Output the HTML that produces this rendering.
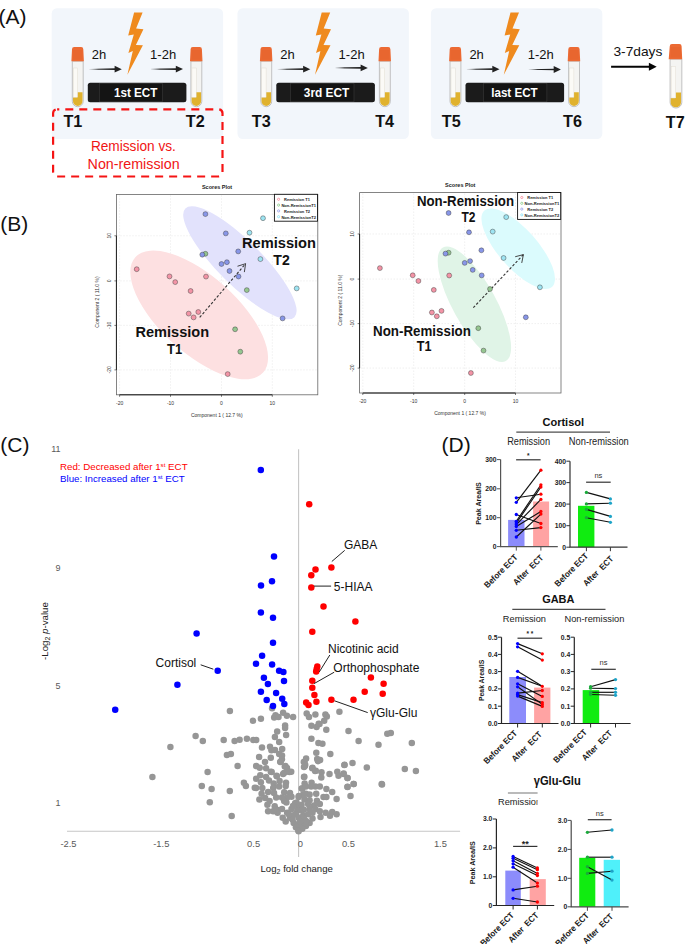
<!DOCTYPE html><html><head><meta charset="utf-8"><style>html,body{margin:0;padding:0;background:#fff;width:685px;height:944px;overflow:hidden}svg{display:block;font-family:"Liberation Sans", sans-serif}</style></head><body><svg width="685" height="944" viewBox="0 0 685 944"><defs><linearGradient id="afade" x1="0" y1="0" x2="1" y2="0"><stop offset="0" stop-color="#222" stop-opacity="0.15"/><stop offset="0.35" stop-color="#222" stop-opacity="1"/><stop offset="1" stop-color="#222" stop-opacity="1"/></linearGradient></defs>
<rect x="0" y="0" width="685" height="944" fill="#fff"/>
<rect x="51.7" y="8.2" width="171.4" height="130.8" rx="5.2" fill="#f2f6fb"/>
<rect x="237.5" y="8.2" width="171.4" height="130.8" rx="5.2" fill="#f2f6fb"/>
<rect x="430.9" y="8.2" width="171.4" height="130.8" rx="5.2" fill="#f2f6fb"/>
<path d="M72.30,61.20 h10.90 v40.05 a5.45,5.45 0 0 1 -10.90,0 z" fill="#f4f4f2" stroke="#b4b4b4" stroke-width="0.8"/><path d="M73.00,97.20 h4.30 v-5.00 h5.20 v9.05 a4.75,4.75 0 0 1 -9.50,0 z" fill="#e0b22e"/><rect x="73.30" y="68.00" width="4.30" height="29.20" fill="#fbfaf6" stroke="#dcd8cc" stroke-width="0.4"/><path d="M72.00,49.20 q0,-2.2 2.2,-2.2 h6.90 q2.2,0 2.2,2.2 l0.6,12.00 h-12.50 z" fill="#ec6a33"/><rect x="72.90" y="50.00" width="9.50" height="9.70" fill="#d95a25" opacity="0.22"/>
<path d="M190.90,61.20 h10.90 v40.05 a5.45,5.45 0 0 1 -10.90,0 z" fill="#f4f4f2" stroke="#b4b4b4" stroke-width="0.8"/><path d="M191.60,97.20 h4.30 v-5.00 h5.20 v9.05 a4.75,4.75 0 0 1 -9.50,0 z" fill="#e0b22e"/><rect x="191.90" y="68.00" width="4.30" height="29.20" fill="#fbfaf6" stroke="#dcd8cc" stroke-width="0.4"/><path d="M190.60,49.20 q0,-2.2 2.2,-2.2 h6.90 q2.2,0 2.2,2.2 l0.6,12.00 h-12.50 z" fill="#ec6a33"/><rect x="191.50" y="50.00" width="9.50" height="9.70" fill="#d95a25" opacity="0.22"/>
<polygon points="134.1,12.4 142.6,12.4 136.1,28.6 143.4,29.3 135.9,45.0 142.9,45.2 127.4,74.7 132.8,51.0 128.4,53.1 133.8,34.5 128.2,35.6" fill="#ef8a1e"/>
<polygon points="89.2,68.9 115.10000000000001,68.35000000000001 115.10000000000001,70.05 89.2,69.5" fill="url(#afade)"/><path d="M114.60000000000001,65.8 L121.80000000000001,69.2 L114.60000000000001,72.60000000000001 z" fill="#222"/>
<polygon points="151.0,68.8 176.3,68.25 176.3,69.94999999999999 151.0,69.39999999999999" fill="url(#afade)"/><path d="M175.8,65.69999999999999 L183.0,69.1 L175.8,72.5 z" fill="#222"/>
<text x="91.7" y="59.0" font-size="13" fill="#111">2h</text>
<text x="150.10000000000002" y="59.0" font-size="13" fill="#111">1-2h</text>
<rect x="87.80000000000001" y="82.8" width="98.6" height="19.4" rx="2.5" fill="#1b1b1b"/>
<rect x="99.3" y="83.3" width="63.0" height="18.4" fill="#141414" stroke="#3a3a3a" stroke-width="0.6"/>
<text x="135.65" y="97.2" font-size="13" font-weight="bold" fill="#fff" text-anchor="middle" textLength="43.5" lengthAdjust="spacingAndGlyphs">1st ECT</text>
<path d="M260.80,61.20 h10.90 v40.05 a5.45,5.45 0 0 1 -10.90,0 z" fill="#f4f4f2" stroke="#b4b4b4" stroke-width="0.8"/><path d="M261.50,97.20 h4.30 v-5.00 h5.20 v9.05 a4.75,4.75 0 0 1 -9.50,0 z" fill="#e0b22e"/><rect x="261.80" y="68.00" width="4.30" height="29.20" fill="#fbfaf6" stroke="#dcd8cc" stroke-width="0.4"/><path d="M260.50,49.20 q0,-2.2 2.2,-2.2 h6.90 q2.2,0 2.2,2.2 l0.6,12.00 h-12.50 z" fill="#ec6a33"/><rect x="261.40" y="50.00" width="9.50" height="9.70" fill="#d95a25" opacity="0.22"/>
<path d="M379.40,61.20 h10.90 v40.05 a5.45,5.45 0 0 1 -10.90,0 z" fill="#f4f4f2" stroke="#b4b4b4" stroke-width="0.8"/><path d="M380.10,97.20 h4.30 v-5.00 h5.20 v9.05 a4.75,4.75 0 0 1 -9.50,0 z" fill="#e0b22e"/><rect x="380.40" y="68.00" width="4.30" height="29.20" fill="#fbfaf6" stroke="#dcd8cc" stroke-width="0.4"/><path d="M379.10,49.20 q0,-2.2 2.2,-2.2 h6.90 q2.2,0 2.2,2.2 l0.6,12.00 h-12.50 z" fill="#ec6a33"/><rect x="380.00" y="50.00" width="9.50" height="9.70" fill="#d95a25" opacity="0.22"/>
<polygon points="321.7,12.4 330.2,12.4 323.7,28.6 331.0,29.3 323.5,45.0 330.5,45.2 315.0,74.7 320.4,51.0 316.0,53.1 321.4,34.5 315.8,35.6" fill="#ef8a1e"/>
<polygon points="277.7,68.9 303.59999999999997,68.35000000000001 303.59999999999997,70.05 277.7,69.5" fill="url(#afade)"/><path d="M303.09999999999997,65.8 L310.29999999999995,69.2 L303.09999999999997,72.60000000000001 z" fill="#222"/>
<polygon points="335.4,67.60000000000001 361.1,67.05000000000001 361.1,68.75 335.4,68.2" fill="url(#afade)"/><path d="M360.6,64.5 L367.8,67.9 L360.6,71.30000000000001 z" fill="#222"/>
<text x="280.2" y="59.0" font-size="13" fill="#111">2h</text>
<text x="338.59999999999997" y="59.0" font-size="13" fill="#111">1-2h</text>
<rect x="276.29999999999995" y="82.8" width="98.6" height="19.4" rx="2.5" fill="#1b1b1b"/>
<rect x="290.5" y="83.3" width="63.5" height="18.4" fill="#141414" stroke="#3a3a3a" stroke-width="0.6"/>
<text x="326.55" y="97.2" font-size="13" font-weight="bold" fill="#fff" text-anchor="middle" textLength="45.5" lengthAdjust="spacingAndGlyphs">3rd ECT</text>
<path d="M450.00,61.20 h10.90 v40.05 a5.45,5.45 0 0 1 -10.90,0 z" fill="#f4f4f2" stroke="#b4b4b4" stroke-width="0.8"/><path d="M450.70,97.20 h4.30 v-5.00 h5.20 v9.05 a4.75,4.75 0 0 1 -9.50,0 z" fill="#e0b22e"/><rect x="451.00" y="68.00" width="4.30" height="29.20" fill="#fbfaf6" stroke="#dcd8cc" stroke-width="0.4"/><path d="M449.70,49.20 q0,-2.2 2.2,-2.2 h6.90 q2.2,0 2.2,2.2 l0.6,12.00 h-12.50 z" fill="#ec6a33"/><rect x="450.60" y="50.00" width="9.50" height="9.70" fill="#d95a25" opacity="0.22"/>
<path d="M568.60,61.20 h10.90 v40.05 a5.45,5.45 0 0 1 -10.90,0 z" fill="#f4f4f2" stroke="#b4b4b4" stroke-width="0.8"/><path d="M569.30,97.20 h4.30 v-5.00 h5.20 v9.05 a4.75,4.75 0 0 1 -9.50,0 z" fill="#e0b22e"/><rect x="569.60" y="68.00" width="4.30" height="29.20" fill="#fbfaf6" stroke="#dcd8cc" stroke-width="0.4"/><path d="M568.30,49.20 q0,-2.2 2.2,-2.2 h6.90 q2.2,0 2.2,2.2 l0.6,12.00 h-12.50 z" fill="#ec6a33"/><rect x="569.20" y="50.00" width="9.50" height="9.70" fill="#d95a25" opacity="0.22"/>
<polygon points="510.5,12.4 519.0,12.4 512.5,28.6 519.8,29.3 512.3,45.0 519.3,45.2 503.8,74.7 509.2,51.0 504.8,53.1 510.2,34.5 504.6,35.6" fill="#ef8a1e"/>
<polygon points="466.90000000000003,68.9 492.8,68.35000000000001 492.8,70.05 466.90000000000003,69.5" fill="url(#afade)"/><path d="M492.3,65.8 L499.5,69.2 L492.3,72.60000000000001 z" fill="#222"/>
<polygon points="528.7,69.2 554.1999999999999,68.65 554.1999999999999,70.35 528.7,69.8" fill="url(#afade)"/><path d="M553.6999999999999,66.1 L560.9,69.5 L553.6999999999999,72.9 z" fill="#222"/>
<text x="469.40000000000003" y="59.0" font-size="13" fill="#111">2h</text>
<text x="527.8000000000001" y="59.0" font-size="13" fill="#111">1-2h</text>
<rect x="465.5" y="82.8" width="98.6" height="19.4" rx="2.5" fill="#1b1b1b"/>
<rect x="483.4" y="83.3" width="63.5" height="18.4" fill="#141414" stroke="#3a3a3a" stroke-width="0.6"/>
<text x="514.45" y="97.2" font-size="13" font-weight="bold" fill="#fff" text-anchor="middle" textLength="46.5" lengthAdjust="spacingAndGlyphs">last ECT</text>
<text x="63.4" y="126.5" font-size="16.2" font-weight="bold" fill="#111">T1</text>
<text x="185.8" y="126.5" font-size="16.2" font-weight="bold" fill="#111">T2</text>
<text x="251.8" y="126.5" font-size="16.2" font-weight="bold" fill="#111">T3</text>
<text x="375.2" y="126.5" font-size="16.2" font-weight="bold" fill="#111">T4</text>
<text x="441.8" y="126.5" font-size="16.2" font-weight="bold" fill="#111">T5</text>
<text x="563.0" y="126.5" font-size="16.2" font-weight="bold" fill="#111">T6</text>
<text x="665.8" y="127.5" font-size="16.2" font-weight="bold" fill="#111">T7</text>
<path d="M670.07,59.14 h11.77 v43.25 a5.89,5.89 0 0 1 -11.77,0 z" fill="#f4f4f2" stroke="#b4b4b4" stroke-width="0.8"/><path d="M670.77,98.02 h4.64 v-5.40 h5.62 v9.77 a5.19,5.19 0 0 1 -10.37,0 z" fill="#e0b22e"/><rect x="671.15" y="66.48" width="4.64" height="31.54" fill="#fbfaf6" stroke="#dcd8cc" stroke-width="0.4"/><path d="M669.75,46.18 q0,-2.2 2.2,-2.2 h7.45 q2.2,0 2.2,2.2 l0.6,12.96 h-13.50 z" fill="#ec6a33"/><rect x="670.72" y="47.04" width="10.26" height="10.48" fill="#d95a25" opacity="0.22"/>
<path d="M611.1,66.7 L649.4000000000001,66.7" stroke="#050505" stroke-width="2.0"/><path d="M648.9000000000001,62.7 L656.7,66.7 L648.9000000000001,70.7 z" fill="#050505"/>
<text x="613.4" y="56.0" font-size="12.8" fill="#111" textLength="49" lengthAdjust="spacingAndGlyphs">3-7days</text>
<rect x="53.1" y="109.3" width="169.4" height="67.2" rx="4" fill="none" stroke="#f51414" stroke-width="2.2" stroke-dasharray="8,6" stroke-dashoffset="5.8"/>
<text x="133.4" y="151.1" font-size="14" fill="#f01414" text-anchor="middle" textLength="85" lengthAdjust="spacingAndGlyphs">Remission vs.</text>
<text x="133.6" y="169.2" font-size="14" fill="#f01414" text-anchor="middle" textLength="92" lengthAdjust="spacingAndGlyphs">Non-remission</text>
<text x="-1.5" y="24.2" font-size="21" fill="#111">(A)</text>
<text x="0.2" y="231.0" font-size="21" fill="#111">(B)</text>
<text x="0.3" y="451.7" font-size="21" fill="#111">(C)</text>
<text x="441.6" y="451.7" font-size="21" fill="#111">(D)</text>
<text x="217.05" y="188.6" font-size="6" font-weight="bold" fill="#222" text-anchor="middle" textLength="30.3" lengthAdjust="spacingAndGlyphs">Scores Plot</text><line x1="119.6" y1="195.4" x2="119.6" y2="393.8" stroke="#dcdcdc" stroke-width="0.55" stroke-dasharray="1.2,1.8"/><line x1="170.5" y1="195.4" x2="170.5" y2="393.8" stroke="#dcdcdc" stroke-width="0.55" stroke-dasharray="1.2,1.8"/><line x1="221.5" y1="195.4" x2="221.5" y2="393.8" stroke="#dcdcdc" stroke-width="0.55" stroke-dasharray="1.2,1.8"/><line x1="272.3" y1="195.4" x2="272.3" y2="393.8" stroke="#dcdcdc" stroke-width="0.55" stroke-dasharray="1.2,1.8"/><line x1="117.4" y1="235.8" x2="316.8" y2="235.8" stroke="#dcdcdc" stroke-width="0.55" stroke-dasharray="1.2,1.8"/><line x1="117.4" y1="280.9" x2="316.8" y2="280.9" stroke="#dcdcdc" stroke-width="0.55" stroke-dasharray="1.2,1.8"/><line x1="117.4" y1="325.4" x2="316.8" y2="325.4" stroke="#dcdcdc" stroke-width="0.55" stroke-dasharray="1.2,1.8"/><line x1="117.4" y1="369.9" x2="316.8" y2="369.9" stroke="#dcdcdc" stroke-width="0.55" stroke-dasharray="1.2,1.8"/><ellipse cx="199.2" cy="314.9" rx="86.1" ry="38.4" transform="rotate(42.1 199.2 314.9)" fill="#fde0e1"/><ellipse cx="239.9" cy="262.8" rx="77.0" ry="22.0" transform="rotate(44.9 239.9 262.8)" fill="#e2e2fc"/><rect x="116.4" y="194.4" width="201.4" height="200.4" fill="none" stroke="#666" stroke-width="0.8"/><line x1="116.4" y1="235.8" x2="116.4" y2="369.9" stroke="#222" stroke-width="1"/><line x1="119.6" y1="394.8" x2="272.3" y2="394.8" stroke="#222" stroke-width="1"/><line x1="119.6" y1="394.8" x2="119.6" y2="396.8" stroke="#222" stroke-width="0.6"/><line x1="170.5" y1="394.8" x2="170.5" y2="396.8" stroke="#222" stroke-width="0.6"/><line x1="221.5" y1="394.8" x2="221.5" y2="396.8" stroke="#222" stroke-width="0.6"/><line x1="272.3" y1="394.8" x2="272.3" y2="396.8" stroke="#222" stroke-width="0.6"/><line x1="114.4" y1="235.8" x2="116.4" y2="235.8" stroke="#222" stroke-width="0.6"/><line x1="114.4" y1="280.9" x2="116.4" y2="280.9" stroke="#222" stroke-width="0.6"/><line x1="114.4" y1="325.4" x2="116.4" y2="325.4" stroke="#222" stroke-width="0.6"/><line x1="114.4" y1="369.9" x2="116.4" y2="369.9" stroke="#222" stroke-width="0.6"/><text x="119.6" y="405.2" font-size="5" fill="#333" text-anchor="middle">-20</text><text x="170.5" y="405.2" font-size="5" fill="#333" text-anchor="middle">-10</text><text x="221.5" y="405.2" font-size="5" fill="#333" text-anchor="middle">0</text><text x="272.3" y="405.2" font-size="5" fill="#333" text-anchor="middle">10</text><text x="110.8" y="235.8" font-size="5" fill="#333" text-anchor="middle" transform="rotate(-90 110.8 235.8)">10</text><text x="110.8" y="280.9" font-size="5" fill="#333" text-anchor="middle" transform="rotate(-90 110.8 280.9)">0</text><text x="110.8" y="325.4" font-size="5" fill="#333" text-anchor="middle" transform="rotate(-90 110.8 325.4)">-10</text><text x="110.8" y="369.9" font-size="5" fill="#333" text-anchor="middle" transform="rotate(-90 110.8 369.9)">-20</text><text x="216.8" y="416.6" font-size="5" fill="#333" text-anchor="middle">Component 1 ( 12.7 %)</text><text x="99.2" y="302" font-size="5" fill="#333" text-anchor="middle" transform="rotate(-90 99.2 302)">Component 2 ( 11.0 %)</text><line x1="199.7" y1="317.4" x2="245.6" y2="263.7" stroke="#333" stroke-width="1.1" stroke-dasharray="2.6,1.8"/><line x1="245.6" y1="263.7" x2="237.49" y2="266.24" stroke="#333" stroke-width="0.9"/><line x1="245.6" y1="263.7" x2="244.35" y2="272.11" stroke="#333" stroke-width="0.9"/><circle cx="136.7" cy="269.2" r="2.45" fill="#f394a6" stroke="#3a3a3a" stroke-width="0.45"/><circle cx="169.5" cy="276.4" r="2.45" fill="#f394a6" stroke="#3a3a3a" stroke-width="0.45"/><circle cx="175.2" cy="282.1" r="2.45" fill="#f394a6" stroke="#3a3a3a" stroke-width="0.45"/><circle cx="206.0" cy="276.6" r="2.45" fill="#f394a6" stroke="#3a3a3a" stroke-width="0.45"/><circle cx="190.6" cy="291.0" r="2.45" fill="#f394a6" stroke="#3a3a3a" stroke-width="0.45"/><circle cx="188.7" cy="313.6" r="2.45" fill="#f394a6" stroke="#3a3a3a" stroke-width="0.45"/><circle cx="193.6" cy="317.4" r="2.45" fill="#f394a6" stroke="#3a3a3a" stroke-width="0.45"/><circle cx="198.3" cy="312.0" r="2.45" fill="#f394a6" stroke="#3a3a3a" stroke-width="0.45"/><circle cx="227.7" cy="374.1" r="2.45" fill="#f394a6" stroke="#3a3a3a" stroke-width="0.45"/><circle cx="205.4" cy="253.8" r="2.45" fill="#95c690" stroke="#3a3a3a" stroke-width="0.45"/><circle cx="246.8" cy="290.1" r="2.45" fill="#95c690" stroke="#3a3a3a" stroke-width="0.45"/><circle cx="235.1" cy="329.3" r="2.45" fill="#95c690" stroke="#3a3a3a" stroke-width="0.45"/><circle cx="240.3" cy="351.7" r="2.45" fill="#95c690" stroke="#3a3a3a" stroke-width="0.45"/><circle cx="205.4" cy="214.1" r="2.45" fill="#8896e8" stroke="#3a3a3a" stroke-width="0.45"/><circle cx="225.8" cy="233.4" r="2.45" fill="#8896e8" stroke="#3a3a3a" stroke-width="0.45"/><circle cx="202.3" cy="254.7" r="2.45" fill="#8896e8" stroke="#3a3a3a" stroke-width="0.45"/><circle cx="238.2" cy="251.4" r="2.45" fill="#8896e8" stroke="#3a3a3a" stroke-width="0.45"/><circle cx="221.5" cy="264.0" r="2.45" fill="#8896e8" stroke="#3a3a3a" stroke-width="0.45"/><circle cx="226.9" cy="262.2" r="2.45" fill="#8896e8" stroke="#3a3a3a" stroke-width="0.45"/><circle cx="229.5" cy="271.0" r="2.45" fill="#8896e8" stroke="#3a3a3a" stroke-width="0.45"/><circle cx="238.5" cy="276.5" r="2.45" fill="#8896e8" stroke="#3a3a3a" stroke-width="0.45"/><circle cx="282.6" cy="318.4" r="2.45" fill="#8896e8" stroke="#3a3a3a" stroke-width="0.45"/><circle cx="263.0" cy="218.2" r="2.45" fill="#9de4f2" stroke="#3a3a3a" stroke-width="0.45"/><circle cx="249.5" cy="232.7" r="2.45" fill="#9de4f2" stroke="#3a3a3a" stroke-width="0.45"/><circle cx="260.4" cy="259.1" r="2.45" fill="#9de4f2" stroke="#3a3a3a" stroke-width="0.45"/><circle cx="296.7" cy="288.4" r="2.45" fill="#9de4f2" stroke="#3a3a3a" stroke-width="0.45"/><rect x="274.4" y="194.3" width="43.1" height="26.9" fill="#fff" stroke="#111" stroke-width="0.9"/><circle cx="278.6" cy="199.3" r="1.1" fill="none" stroke="#f0506a" stroke-width="0.5"/><text x="284.1" y="201.10000000000002" font-size="4.3" font-weight="bold" fill="#222" textLength="25.8" lengthAdjust="spacingAndGlyphs">Remission T1</text><circle cx="278.6" cy="205.10000000000002" r="1.1" fill="none" stroke="#50b050" stroke-width="0.5"/><text x="281.4" y="206.90000000000003" font-size="4.3" font-weight="bold" fill="#222" textLength="34.6" lengthAdjust="spacingAndGlyphs">Non-RemissionT1</text><circle cx="278.6" cy="210.9" r="1.1" fill="none" stroke="#6070e0" stroke-width="0.5"/><text x="284.1" y="212.70000000000002" font-size="4.3" font-weight="bold" fill="#222" textLength="26.0" lengthAdjust="spacingAndGlyphs">Remission T2</text><circle cx="278.6" cy="216.70000000000002" r="1.1" fill="none" stroke="#50d0f0" stroke-width="0.5"/><text x="281.4" y="218.50000000000003" font-size="4.3" font-weight="bold" fill="#222" textLength="34.6" lengthAdjust="spacingAndGlyphs">Non-RemissionT2</text><text x="279.0" y="248.4" font-size="15" font-weight="bold" fill="#111" text-anchor="middle" textLength="74" lengthAdjust="spacingAndGlyphs">Remission</text><text x="281.5" y="265.3" font-size="15" font-weight="bold" fill="#111" text-anchor="middle" textLength="16.4" lengthAdjust="spacingAndGlyphs">T2</text><text x="172.3" y="336.8" font-size="15" font-weight="bold" fill="#111" text-anchor="middle" textLength="73.6" lengthAdjust="spacingAndGlyphs">Remission</text><text x="174.6" y="353.8" font-size="15" font-weight="bold" fill="#111" text-anchor="middle" textLength="15.1" lengthAdjust="spacingAndGlyphs">T1</text>
<text x="460.25" y="186.79999999999998" font-size="6" font-weight="bold" fill="#222" text-anchor="middle" textLength="30.3" lengthAdjust="spacingAndGlyphs">Scores Plot</text><line x1="362.79999999999995" y1="193.6" x2="362.79999999999995" y2="392.0" stroke="#dcdcdc" stroke-width="0.55" stroke-dasharray="1.2,1.8"/><line x1="413.7" y1="193.6" x2="413.7" y2="392.0" stroke="#dcdcdc" stroke-width="0.55" stroke-dasharray="1.2,1.8"/><line x1="464.7" y1="193.6" x2="464.7" y2="392.0" stroke="#dcdcdc" stroke-width="0.55" stroke-dasharray="1.2,1.8"/><line x1="515.5" y1="193.6" x2="515.5" y2="392.0" stroke="#dcdcdc" stroke-width="0.55" stroke-dasharray="1.2,1.8"/><line x1="360.6" y1="234.0" x2="560.0" y2="234.0" stroke="#dcdcdc" stroke-width="0.55" stroke-dasharray="1.2,1.8"/><line x1="360.6" y1="279.09999999999997" x2="560.0" y2="279.09999999999997" stroke="#dcdcdc" stroke-width="0.55" stroke-dasharray="1.2,1.8"/><line x1="360.6" y1="323.59999999999997" x2="560.0" y2="323.59999999999997" stroke="#dcdcdc" stroke-width="0.55" stroke-dasharray="1.2,1.8"/><line x1="360.6" y1="368.09999999999997" x2="560.0" y2="368.09999999999997" stroke="#dcdcdc" stroke-width="0.55" stroke-dasharray="1.2,1.8"/><ellipse cx="474.4" cy="304.2" rx="64.9" ry="21.6" transform="rotate(61.0 474.4 304.2)" fill="#e0f4e7"/><ellipse cx="518.2" cy="248.7" rx="51.0" ry="19.4" transform="rotate(48.5 518.2 248.7)" fill="#dbfbfd"/><rect x="359.6" y="192.6" width="201.39999999999998" height="200.4" fill="none" stroke="#666" stroke-width="0.8"/><line x1="359.6" y1="234.0" x2="359.6" y2="368.09999999999997" stroke="#222" stroke-width="1"/><line x1="362.79999999999995" y1="393.0" x2="515.5" y2="393.0" stroke="#222" stroke-width="1"/><line x1="362.79999999999995" y1="393.0" x2="362.79999999999995" y2="395.0" stroke="#222" stroke-width="0.6"/><line x1="413.7" y1="393.0" x2="413.7" y2="395.0" stroke="#222" stroke-width="0.6"/><line x1="464.7" y1="393.0" x2="464.7" y2="395.0" stroke="#222" stroke-width="0.6"/><line x1="515.5" y1="393.0" x2="515.5" y2="395.0" stroke="#222" stroke-width="0.6"/><line x1="357.6" y1="234.0" x2="359.6" y2="234.0" stroke="#222" stroke-width="0.6"/><line x1="357.6" y1="279.09999999999997" x2="359.6" y2="279.09999999999997" stroke="#222" stroke-width="0.6"/><line x1="357.6" y1="323.59999999999997" x2="359.6" y2="323.59999999999997" stroke="#222" stroke-width="0.6"/><line x1="357.6" y1="368.09999999999997" x2="359.6" y2="368.09999999999997" stroke="#222" stroke-width="0.6"/><text x="362.79999999999995" y="403.4" font-size="5" fill="#333" text-anchor="middle">-20</text><text x="413.7" y="403.4" font-size="5" fill="#333" text-anchor="middle">-10</text><text x="464.7" y="403.4" font-size="5" fill="#333" text-anchor="middle">0</text><text x="515.5" y="403.4" font-size="5" fill="#333" text-anchor="middle">10</text><text x="354.0" y="234.0" font-size="5" fill="#333" text-anchor="middle" transform="rotate(-90 354.0 234.0)">10</text><text x="354.0" y="279.09999999999997" font-size="5" fill="#333" text-anchor="middle" transform="rotate(-90 354.0 279.09999999999997)">0</text><text x="354.0" y="323.59999999999997" font-size="5" fill="#333" text-anchor="middle" transform="rotate(-90 354.0 323.59999999999997)">-10</text><text x="354.0" y="368.09999999999997" font-size="5" fill="#333" text-anchor="middle" transform="rotate(-90 354.0 368.09999999999997)">-20</text><text x="460.0" y="414.8" font-size="5" fill="#333" text-anchor="middle">Component 1 ( 12.7 %)</text><text x="342.4" y="300.2" font-size="5" fill="#333" text-anchor="middle" transform="rotate(-90 342.4 300.2)">Component 2 ( 11.0 %)</text><line x1="473.3" y1="307.7" x2="523.4" y2="254.6" stroke="#333" stroke-width="1.1" stroke-dasharray="2.6,1.8"/><line x1="523.4" y1="254.6" x2="515.17" y2="256.74" stroke="#333" stroke-width="0.9"/><line x1="523.4" y1="254.6" x2="521.74" y2="262.94" stroke="#333" stroke-width="0.9"/><circle cx="379.9" cy="268.1" r="2.45" fill="#f394a6" stroke="#3a3a3a" stroke-width="0.45"/><circle cx="412.7" cy="275.3" r="2.45" fill="#f394a6" stroke="#3a3a3a" stroke-width="0.45"/><circle cx="418.4" cy="281.0" r="2.45" fill="#f394a6" stroke="#3a3a3a" stroke-width="0.45"/><circle cx="449.2" cy="275.5" r="2.45" fill="#f394a6" stroke="#3a3a3a" stroke-width="0.45"/><circle cx="433.8" cy="289.9" r="2.45" fill="#f394a6" stroke="#3a3a3a" stroke-width="0.45"/><circle cx="431.9" cy="312.5" r="2.45" fill="#f394a6" stroke="#3a3a3a" stroke-width="0.45"/><circle cx="436.8" cy="316.3" r="2.45" fill="#f394a6" stroke="#3a3a3a" stroke-width="0.45"/><circle cx="441.5" cy="310.9" r="2.45" fill="#f394a6" stroke="#3a3a3a" stroke-width="0.45"/><circle cx="470.9" cy="373.0" r="2.45" fill="#f394a6" stroke="#3a3a3a" stroke-width="0.45"/><circle cx="448.6" cy="252.7" r="2.45" fill="#95c690" stroke="#3a3a3a" stroke-width="0.45"/><circle cx="490.0" cy="289.0" r="2.45" fill="#95c690" stroke="#3a3a3a" stroke-width="0.45"/><circle cx="478.3" cy="328.2" r="2.45" fill="#95c690" stroke="#3a3a3a" stroke-width="0.45"/><circle cx="483.5" cy="350.6" r="2.45" fill="#95c690" stroke="#3a3a3a" stroke-width="0.45"/><circle cx="448.6" cy="213.0" r="2.45" fill="#8896e8" stroke="#3a3a3a" stroke-width="0.45"/><circle cx="469.0" cy="232.3" r="2.45" fill="#8896e8" stroke="#3a3a3a" stroke-width="0.45"/><circle cx="445.5" cy="253.6" r="2.45" fill="#8896e8" stroke="#3a3a3a" stroke-width="0.45"/><circle cx="481.4" cy="250.3" r="2.45" fill="#8896e8" stroke="#3a3a3a" stroke-width="0.45"/><circle cx="464.7" cy="262.9" r="2.45" fill="#8896e8" stroke="#3a3a3a" stroke-width="0.45"/><circle cx="470.1" cy="261.1" r="2.45" fill="#8896e8" stroke="#3a3a3a" stroke-width="0.45"/><circle cx="472.7" cy="269.9" r="2.45" fill="#8896e8" stroke="#3a3a3a" stroke-width="0.45"/><circle cx="481.7" cy="275.4" r="2.45" fill="#8896e8" stroke="#3a3a3a" stroke-width="0.45"/><circle cx="525.8" cy="317.3" r="2.45" fill="#8896e8" stroke="#3a3a3a" stroke-width="0.45"/><circle cx="506.2" cy="217.1" r="2.45" fill="#9de4f2" stroke="#3a3a3a" stroke-width="0.45"/><circle cx="492.7" cy="231.6" r="2.45" fill="#9de4f2" stroke="#3a3a3a" stroke-width="0.45"/><circle cx="503.6" cy="258.0" r="2.45" fill="#9de4f2" stroke="#3a3a3a" stroke-width="0.45"/><circle cx="539.9" cy="287.3" r="2.45" fill="#9de4f2" stroke="#3a3a3a" stroke-width="0.45"/><rect x="517.5999999999999" y="192.5" width="43.1" height="26.9" fill="#fff" stroke="#111" stroke-width="0.9"/><circle cx="521.8" cy="197.5" r="1.1" fill="none" stroke="#f0506a" stroke-width="0.5"/><text x="527.3" y="199.3" font-size="4.3" font-weight="bold" fill="#222" textLength="25.8" lengthAdjust="spacingAndGlyphs">Remission T1</text><circle cx="521.8" cy="203.3" r="1.1" fill="none" stroke="#50b050" stroke-width="0.5"/><text x="524.5999999999999" y="205.10000000000002" font-size="4.3" font-weight="bold" fill="#222" textLength="34.6" lengthAdjust="spacingAndGlyphs">Non-RemissionT1</text><circle cx="521.8" cy="209.1" r="1.1" fill="none" stroke="#6070e0" stroke-width="0.5"/><text x="527.3" y="210.9" font-size="4.3" font-weight="bold" fill="#222" textLength="26.0" lengthAdjust="spacingAndGlyphs">Remission T2</text><circle cx="521.8" cy="214.9" r="1.1" fill="none" stroke="#50d0f0" stroke-width="0.5"/><text x="524.5999999999999" y="216.70000000000002" font-size="4.3" font-weight="bold" fill="#222" textLength="34.6" lengthAdjust="spacingAndGlyphs">Non-RemissionT2</text><text x="465.5" y="206.3" font-size="15" font-weight="bold" fill="#111" text-anchor="middle" textLength="97.1" lengthAdjust="spacingAndGlyphs">Non-Remission</text><text x="468.4" y="221.6" font-size="15" font-weight="bold" fill="#111" text-anchor="middle" textLength="14.0" lengthAdjust="spacingAndGlyphs">T2</text><text x="422.0" y="335.5" font-size="15" font-weight="bold" fill="#111" text-anchor="middle" textLength="97.8" lengthAdjust="spacingAndGlyphs">Non-Remission</text><text x="424.2" y="351.4" font-size="15" font-weight="bold" fill="#111" text-anchor="middle" textLength="14.7" lengthAdjust="spacingAndGlyphs">T1</text>
<line x1="298.6" y1="449.3" x2="298.6" y2="857" stroke="#c6c6c6" stroke-width="1.1"/>
<line x1="67" y1="831.3" x2="460.1" y2="831.3" stroke="#c6c6c6" stroke-width="1.1"/>
<g fill="#969696"><circle cx="229.9" cy="710.9" r="3.25"/><circle cx="170.4" cy="747.0" r="3.25"/><circle cx="152.4" cy="776.9" r="3.25"/><circle cx="195.6" cy="735.9" r="3.25"/><circle cx="202.8" cy="740.9" r="3.25"/><circle cx="223.7" cy="739.9" r="3.25"/><circle cx="234.6" cy="740.9" r="3.25"/><circle cx="239.6" cy="739.8" r="3.25"/><circle cx="246.9" cy="738.8" r="3.25"/><circle cx="253.3" cy="739.9" r="3.25"/><circle cx="256.2" cy="739.9" r="3.25"/><circle cx="226.9" cy="755.0" r="3.25"/><circle cx="230.9" cy="754.1" r="3.25"/><circle cx="237.6" cy="766.0" r="3.25"/><circle cx="207.6" cy="772.0" r="3.25"/><circle cx="201.8" cy="786.1" r="3.25"/><circle cx="211.6" cy="789.0" r="3.25"/><circle cx="229.8" cy="790.9" r="3.25"/><circle cx="209.8" cy="802.2" r="3.25"/><circle cx="231.7" cy="816.1" r="3.25"/><circle cx="253.0" cy="720.8" r="3.25"/><circle cx="260.9" cy="718.7" r="3.25"/><circle cx="272.1" cy="708.3" r="3.25"/><circle cx="274.2" cy="717.4" r="3.25"/><circle cx="275.5" cy="715.3" r="3.25"/><circle cx="278.5" cy="716.9" r="3.25"/><circle cx="283.1" cy="712.7" r="3.25"/><circle cx="286.9" cy="715.7" r="3.25"/><circle cx="293.1" cy="716.9" r="3.25"/><circle cx="285.1" cy="725.4" r="3.25"/><circle cx="285.1" cy="728.0" r="3.25"/><circle cx="277.2" cy="731.6" r="3.25"/><circle cx="286.1" cy="734.9" r="3.25"/><circle cx="274.9" cy="737.0" r="3.25"/><circle cx="279.2" cy="741.9" r="3.25"/><circle cx="262.0" cy="747.6" r="3.25"/><circle cx="270.0" cy="746.7" r="3.25"/><circle cx="271.4" cy="750.2" r="3.25"/><circle cx="275.0" cy="750.0" r="3.25"/><circle cx="282.2" cy="749.0" r="3.25"/><circle cx="279.2" cy="754.0" r="3.25"/><circle cx="282.0" cy="755.5" r="3.25"/><circle cx="259.1" cy="756.9" r="3.25"/><circle cx="270.8" cy="757.8" r="3.25"/><circle cx="281.9" cy="759.2" r="3.25"/><circle cx="265.0" cy="761.9" r="3.25"/><circle cx="280.2" cy="761.9" r="3.25"/><circle cx="256.2" cy="766.0" r="3.25"/><circle cx="259.7" cy="767.7" r="3.25"/><circle cx="266.1" cy="768.3" r="3.25"/><circle cx="285.4" cy="766.1" r="3.25"/><circle cx="287.0" cy="768.0" r="3.25"/><circle cx="289.5" cy="772.0" r="3.25"/><circle cx="284.0" cy="772.9" r="3.25"/><circle cx="271.7" cy="772.0" r="3.25"/><circle cx="276.8" cy="776.3" r="3.25"/><circle cx="243.9" cy="782.8" r="3.25"/><circle cx="245.9" cy="785.9" r="3.25"/><circle cx="254.8" cy="787.8" r="3.25"/><circle cx="270.8" cy="771.7" r="3.25"/><circle cx="280.7" cy="761.8" r="3.25"/><circle cx="284.8" cy="766.4" r="3.25"/><circle cx="288.9" cy="771.7" r="3.25"/><circle cx="283.1" cy="774.0" r="3.25"/><circle cx="256.2" cy="778.7" r="3.25"/><circle cx="260.3" cy="775.2" r="3.25"/><circle cx="260.9" cy="782.2" r="3.25"/><circle cx="266.1" cy="777.0" r="3.25"/><circle cx="269.0" cy="780.4" r="3.25"/><circle cx="276.6" cy="775.8" r="3.25"/><circle cx="273.7" cy="783.4" r="3.25"/><circle cx="279.6" cy="781.0" r="3.25"/><circle cx="286.0" cy="782.8" r="3.25"/><circle cx="306.7" cy="713.4" r="3.25"/><circle cx="309.0" cy="716.9" r="3.25"/><circle cx="315.4" cy="714.6" r="3.25"/><circle cx="325.4" cy="714.6" r="3.25"/><circle cx="326.8" cy="716.4" r="3.25"/><circle cx="339.4" cy="711.7" r="3.25"/><circle cx="324.2" cy="720.8" r="3.25"/><circle cx="319.5" cy="723.9" r="3.25"/><circle cx="311.4" cy="725.7" r="3.25"/><circle cx="316.6" cy="726.9" r="3.25"/><circle cx="318.7" cy="723.7" r="3.25"/><circle cx="326.3" cy="729.8" r="3.25"/><circle cx="348.5" cy="730.9" r="3.25"/><circle cx="311.4" cy="738.8" r="3.25"/><circle cx="318.4" cy="743.0" r="3.25"/><circle cx="322.4" cy="743.8" r="3.25"/><circle cx="358.6" cy="740.9" r="3.25"/><circle cx="316.3" cy="752.8" r="3.25"/><circle cx="330.3" cy="754.0" r="3.25"/><circle cx="306.1" cy="758.4" r="3.25"/><circle cx="303.8" cy="761.9" r="3.25"/><circle cx="317.2" cy="759.0" r="3.25"/><circle cx="320.1" cy="760.1" r="3.25"/><circle cx="304.9" cy="766.0" r="3.25"/><circle cx="312.5" cy="767.7" r="3.25"/><circle cx="315.8" cy="770.8" r="3.25"/><circle cx="304.3" cy="776.7" r="3.25"/><circle cx="344.6" cy="764.8" r="3.25"/><circle cx="352.5" cy="763.1" r="3.25"/><circle cx="366.8" cy="767.5" r="3.25"/><circle cx="378.5" cy="744.8" r="3.25"/><circle cx="387.3" cy="733.8" r="3.25"/><circle cx="390.8" cy="732.9" r="3.25"/><circle cx="411.8" cy="742.9" r="3.25"/><circle cx="404.8" cy="768.9" r="3.25"/><circle cx="415.9" cy="771.0" r="3.25"/><circle cx="343.5" cy="773.9" r="3.25"/><circle cx="347.5" cy="778.0" r="3.25"/><circle cx="353.7" cy="784.1" r="3.25"/><circle cx="347.5" cy="786.7" r="3.25"/><circle cx="381.7" cy="784.1" r="3.25"/><circle cx="350.5" cy="796.0" r="3.25"/><circle cx="382.0" cy="784.6" r="3.25"/><circle cx="304.6" cy="761.8" r="3.25"/><circle cx="305.2" cy="764.7" r="3.25"/><circle cx="304.0" cy="767.0" r="3.25"/><circle cx="318.0" cy="761.2" r="3.25"/><circle cx="312.2" cy="768.2" r="3.25"/><circle cx="315.1" cy="771.1" r="3.25"/><circle cx="321.5" cy="772.3" r="3.25"/><circle cx="321.3" cy="777.5" r="3.25"/><circle cx="329.5" cy="774.0" r="3.25"/><circle cx="337.3" cy="771.7" r="3.25"/><circle cx="338.5" cy="775.8" r="3.25"/><circle cx="343.7" cy="773.4" r="3.25"/><circle cx="347.5" cy="778.1" r="3.25"/><circle cx="344.3" cy="764.9" r="3.25"/><circle cx="353.6" cy="783.9" r="3.25"/><circle cx="347.5" cy="787.1" r="3.25"/><circle cx="304.0" cy="776.9" r="3.25"/><circle cx="304.6" cy="783.4" r="3.25"/><circle cx="311.6" cy="782.8" r="3.25"/><circle cx="291.2" cy="771.7" r="3.25"/><circle cx="262.3" cy="787.9" r="3.25"/><circle cx="256.1" cy="787.9" r="3.25"/><circle cx="261.6" cy="793.8" r="3.25"/><circle cx="268.1" cy="791.9" r="3.25"/><circle cx="259.4" cy="799.6" r="3.25"/><circle cx="265.2" cy="798.1" r="3.25"/><circle cx="269.6" cy="801.1" r="3.25"/><circle cx="267.4" cy="804.7" r="3.25"/><circle cx="273.2" cy="787.9" r="3.25"/><circle cx="274.0" cy="793.0" r="3.25"/><circle cx="276.2" cy="797.4" r="3.25"/><circle cx="279.1" cy="786.5" r="3.25"/><circle cx="285.7" cy="786.1" r="3.25"/><circle cx="284.2" cy="792.3" r="3.25"/><circle cx="290.0" cy="793.0" r="3.25"/><circle cx="282.0" cy="797.4" r="3.25"/><circle cx="287.1" cy="797.4" r="3.25"/><circle cx="291.5" cy="796.7" r="3.25"/><circle cx="284.2" cy="801.1" r="3.25"/><circle cx="286.4" cy="802.5" r="3.25"/><circle cx="268.1" cy="811.3" r="3.25"/><circle cx="274.7" cy="806.2" r="3.25"/><circle cx="273.2" cy="811.3" r="3.25"/><circle cx="277.6" cy="812.7" r="3.25"/><circle cx="276.9" cy="809.8" r="3.25"/><circle cx="282.0" cy="809.1" r="3.25"/><circle cx="282.7" cy="817.8" r="3.25"/><circle cx="285.7" cy="821.5" r="3.25"/><circle cx="287.1" cy="812.7" r="3.25"/><circle cx="291.5" cy="809.1" r="3.25"/><circle cx="290.0" cy="817.8" r="3.25"/><circle cx="293.7" cy="823.0" r="3.25"/><circle cx="295.9" cy="827.3" r="3.25"/><circle cx="298.4" cy="830.6" r="3.25"/><circle cx="301.0" cy="827.3" r="3.25"/><circle cx="303.2" cy="823.0" r="3.25"/><circle cx="295.1" cy="803.2" r="3.25"/><circle cx="298.8" cy="806.9" r="3.25"/><circle cx="301.7" cy="810.5" r="3.25"/><circle cx="295.9" cy="814.2" r="3.25"/><circle cx="300.3" cy="817.8" r="3.25"/><circle cx="303.2" cy="815.7" r="3.25"/><circle cx="297.3" cy="810.5" r="3.25"/><circle cx="298.8" cy="796.0" r="3.25"/><circle cx="303.2" cy="794.5" r="3.25"/><circle cx="301.7" cy="788.6" r="3.25"/><circle cx="302.3" cy="788.6" r="3.25"/><circle cx="305.9" cy="786.5" r="3.25"/><circle cx="311.1" cy="786.5" r="3.25"/><circle cx="315.4" cy="786.5" r="3.25"/><circle cx="319.8" cy="786.5" r="3.25"/><circle cx="326.4" cy="789.0" r="3.25"/><circle cx="332.2" cy="791.9" r="3.25"/><circle cx="316.2" cy="793.8" r="3.25"/><circle cx="323.5" cy="797.0" r="3.25"/><circle cx="326.4" cy="797.0" r="3.25"/><circle cx="336.6" cy="798.9" r="3.25"/><circle cx="298.6" cy="797.0" r="3.25"/><circle cx="305.9" cy="793.8" r="3.25"/><circle cx="309.6" cy="794.5" r="3.25"/><circle cx="304.5" cy="799.6" r="3.25"/><circle cx="309.6" cy="800.3" r="3.25"/><circle cx="316.9" cy="800.7" r="3.25"/><circle cx="319.8" cy="804.0" r="3.25"/><circle cx="314.0" cy="805.4" r="3.25"/><circle cx="308.1" cy="804.0" r="3.25"/><circle cx="296.5" cy="802.5" r="3.25"/><circle cx="301.6" cy="804.7" r="3.25"/><circle cx="303.8" cy="809.8" r="3.25"/><circle cx="309.6" cy="809.1" r="3.25"/><circle cx="315.4" cy="809.1" r="3.25"/><circle cx="319.8" cy="811.3" r="3.25"/><circle cx="325.7" cy="812.7" r="3.25"/><circle cx="330.0" cy="815.7" r="3.25"/><circle cx="332.2" cy="812.0" r="3.25"/><circle cx="336.6" cy="814.2" r="3.25"/><circle cx="320.5" cy="817.1" r="3.25"/><circle cx="312.5" cy="818.6" r="3.25"/><circle cx="309.6" cy="823.0" r="3.25"/><circle cx="305.9" cy="825.9" r="3.25"/><circle cx="302.3" cy="828.8" r="3.25"/><circle cx="298.6" cy="831.2" r="3.25"/><circle cx="298.6" cy="817.8" r="3.25"/><circle cx="303.8" cy="817.1" r="3.25"/><circle cx="297.9" cy="824.4" r="3.25"/><circle cx="295.0" cy="814.2" r="3.25"/><circle cx="308.1" cy="814.2" r="3.25"/><circle cx="312.5" cy="812.7" r="3.25"/><circle cx="292.5" cy="819.5" r="3.25"/><circle cx="289.0" cy="814.5" r="3.25"/><circle cx="306.0" cy="821.0" r="3.25"/><circle cx="300.0" cy="821.5" r="3.25"/><circle cx="293.0" cy="806.0" r="3.25"/></g>
<g fill="#ff0000"><circle cx="309.2" cy="504.2" r="3.25"/><circle cx="331.4" cy="567.5" r="3.25"/><circle cx="315.5" cy="569.4" r="3.25"/><circle cx="311.3" cy="575.3" r="3.25"/><circle cx="311.3" cy="587.4" r="3.25"/><circle cx="323.5" cy="606.4" r="3.25"/><circle cx="355.4" cy="621.6" r="3.25"/><circle cx="312.3" cy="631.7" r="3.25"/><circle cx="317.3" cy="666.4" r="3.25"/><circle cx="316.7" cy="669.0" r="3.25"/><circle cx="316.2" cy="671.6" r="3.25"/><circle cx="312.3" cy="680.7" r="3.25"/><circle cx="312.3" cy="687.8" r="3.25"/><circle cx="314.4" cy="694.9" r="3.25"/><circle cx="316.4" cy="701.7" r="3.25"/><circle cx="306.2" cy="702.6" r="3.25"/><circle cx="308.5" cy="704.9" r="3.25"/><circle cx="331.4" cy="699.8" r="3.25"/><circle cx="353.5" cy="699.8" r="3.25"/><circle cx="364.7" cy="691.7" r="3.25"/><circle cx="370.9" cy="677.4" r="3.25"/><circle cx="383.6" cy="683.7" r="3.25"/><circle cx="382.7" cy="693.8" r="3.25"/></g>
<g fill="#0000ff"><circle cx="260.8" cy="469.9" r="3.25"/><circle cx="274.0" cy="556.4" r="3.25"/><circle cx="272.0" cy="581.3" r="3.25"/><circle cx="261.0" cy="585.4" r="3.25"/><circle cx="260.9" cy="612.6" r="3.25"/><circle cx="273.0" cy="617.7" r="3.25"/><circle cx="196.6" cy="633.6" r="3.25"/><circle cx="273.0" cy="642.7" r="3.25"/><circle cx="262.1" cy="655.7" r="3.25"/><circle cx="256.0" cy="663.8" r="3.25"/><circle cx="272.1" cy="664.6" r="3.25"/><circle cx="217.7" cy="670.7" r="3.25"/><circle cx="279.1" cy="670.7" r="3.25"/><circle cx="283.4" cy="672.0" r="3.25"/><circle cx="263.9" cy="677.7" r="3.25"/><circle cx="284.0" cy="680.9" r="3.25"/><circle cx="267.9" cy="683.9" r="3.25"/><circle cx="177.4" cy="684.7" r="3.25"/><circle cx="260.9" cy="691.8" r="3.25"/><circle cx="276.1" cy="692.9" r="3.25"/><circle cx="266.7" cy="700.0" r="3.25"/><circle cx="282.2" cy="698.8" r="3.25"/><circle cx="284.3" cy="704.0" r="3.25"/><circle cx="273.0" cy="705.9" r="3.25"/><circle cx="115.2" cy="709.8" r="3.25"/></g>
<text x="60.6" y="452.0" font-size="9" fill="#595959" text-anchor="end">11</text>
<text x="60.6" y="571.1" font-size="9" fill="#595959" text-anchor="end">9</text>
<text x="60.6" y="688.5" font-size="9" fill="#595959" text-anchor="end">5</text>
<text x="60.6" y="805.9" font-size="9" fill="#595959" text-anchor="end">1</text>
<text x="68.5" y="846.6" font-size="9.4" fill="#595959" text-anchor="middle">-2.5</text>
<text x="161.3" y="846.6" font-size="9.4" fill="#595959" text-anchor="middle">-1.5</text>
<text x="253.6" y="846.6" font-size="9.4" fill="#595959" text-anchor="middle">0.5</text>
<text x="300.3" y="846.6" font-size="9.4" fill="#595959" text-anchor="middle">0</text>
<text x="348.4" y="846.6" font-size="9.4" fill="#595959" text-anchor="middle">0.5</text>
<text x="440.4" y="846.6" font-size="9.4" fill="#595959" text-anchor="middle">1.5</text>
<text x="296.7" y="871.9" font-size="9.65" fill="#222" text-anchor="middle">Log<tspan font-size="7" dy="2">2</tspan><tspan dy="-2"> fold change</tspan></text>
<text x="48.6" y="630.9" font-size="9.7" fill="#222" text-anchor="middle" transform="rotate(-90 48.6 631)">-Log<tspan font-size="7" dy="2">2</tspan><tspan dy="-2" font-style="italic"> p</tspan>-value</text>
<text x="60.0" y="470.3" font-size="9.4" fill="#ff0000" textLength="127.6" lengthAdjust="spacingAndGlyphs">Red: Decreased after 1<tspan font-size="6" dy="-3.3">st</tspan><tspan dy="3.3"> ECT</tspan></text>
<text x="60.0" y="481.9" font-size="9.4" fill="#0000ff" textLength="124.6" lengthAdjust="spacingAndGlyphs">Blue: Increased after 1<tspan font-size="6" dy="-3.3">st</tspan><tspan dy="3.3"> ECT</tspan></text>
<line x1="331.8" y1="561.5" x2="344.7" y2="550.4" stroke="#222" stroke-width="1"/>
<line x1="314.0" y1="586.1" x2="331.1" y2="586.1" stroke="#222" stroke-width="1"/>
<line x1="319.3" y1="671.9" x2="329.8" y2="655.0" stroke="#222" stroke-width="1"/>
<line x1="314.1" y1="683.6" x2="334.2" y2="672.2" stroke="#222" stroke-width="1"/>
<line x1="334.5" y1="700.8" x2="367.7" y2="712.6" stroke="#222" stroke-width="1"/>
<line x1="200.7" y1="664.8" x2="213.3" y2="669.2" stroke="#222" stroke-width="1"/>
<text x="344.0" y="548.9" font-size="12" fill="#111">GABA</text>
<text x="333.8" y="591.2" font-size="12" fill="#111">5-HIAA</text>
<text x="328.0" y="652.8" font-size="12" fill="#111">Nicotinic acid</text>
<text x="333.3" y="671.8" font-size="12" fill="#111">Orthophosphate</text>
<text x="370.0" y="716.9" font-size="12" fill="#111">γGlu-Glu</text>
<text x="155.6" y="666.6" font-size="12" fill="#111">Cortisol</text>
<text x="563.3" y="425.9" font-size="11.6" font-weight="bold" fill="#111" text-anchor="middle" textLength="41.7" lengthAdjust="spacingAndGlyphs">Cortisol</text>
<line x1="516.3" y1="432.1" x2="610" y2="432.1" stroke="#222" stroke-width="1"/>
<text x="528.6" y="445.2" font-size="10" fill="#222" text-anchor="middle" textLength="42.9" lengthAdjust="spacingAndGlyphs">Remission</text>
<text x="598.8" y="445.2" font-size="10" fill="#222" text-anchor="middle" textLength="59.9" lengthAdjust="spacingAndGlyphs">Non-remission</text>
<text x="481.3" y="503.5" font-size="7.6" font-weight="bold" fill="#1a1a1a" text-anchor="middle" textLength="42.7" lengthAdjust="spacingAndGlyphs" transform="rotate(-90 481.3 503.5)">Peak Area/IS</text>
<rect x="508.1" y="519.9" width="16.40" height="26.70" fill="#8c8cfb"/><rect x="533.1" y="501.5" width="16.00" height="45.10" fill="#ffa3a3"/><path d="M500.6,459.6 V546.6 H557.8" fill="none" stroke="#555" stroke-width="1.2"/><line x1="497.0" y1="459.6" x2="500.6" y2="459.6" stroke="#555" stroke-width="1"/><text x="496.6" y="462.0" font-size="6.8" font-weight="bold" fill="#222" text-anchor="end">300</text><line x1="497.0" y1="488.8" x2="500.6" y2="488.8" stroke="#555" stroke-width="1"/><text x="496.6" y="491.2" font-size="6.8" font-weight="bold" fill="#222" text-anchor="end">200</text><line x1="497.0" y1="517.7" x2="500.6" y2="517.7" stroke="#555" stroke-width="1"/><text x="496.6" y="520.1" font-size="6.8" font-weight="bold" fill="#222" text-anchor="end">100</text><line x1="497.0" y1="546.6" x2="500.6" y2="546.6" stroke="#555" stroke-width="1"/><text x="496.6" y="549.0" font-size="6.8" font-weight="bold" fill="#222" text-anchor="end">0</text><line x1="516.3" y1="546.6" x2="516.3" y2="550.6" stroke="#555" stroke-width="1"/><line x1="540.9" y1="546.6" x2="540.9" y2="550.6" stroke="#555" stroke-width="1"/><line x1="516.3" y1="502.3" x2="540.9" y2="470.2" stroke="#111" stroke-width="1.15"/><line x1="516.3" y1="497.8" x2="540.9" y2="494.2" stroke="#111" stroke-width="1.15"/><line x1="516.3" y1="521.3" x2="540.9" y2="484.8" stroke="#111" stroke-width="1.15"/><line x1="516.3" y1="523.1" x2="540.9" y2="487.0" stroke="#111" stroke-width="1.15"/><line x1="516.3" y1="524.7" x2="540.9" y2="499.4" stroke="#111" stroke-width="1.15"/><line x1="516.3" y1="514.5" x2="540.9" y2="523.5" stroke="#111" stroke-width="1.15"/><line x1="516.3" y1="526.5" x2="540.9" y2="511.4" stroke="#111" stroke-width="1.15"/><line x1="516.3" y1="537.0" x2="540.9" y2="514.1" stroke="#111" stroke-width="1.15"/><line x1="516.3" y1="530.3" x2="540.9" y2="527.6" stroke="#111" stroke-width="1.15"/><circle cx="516.3" cy="497.8" r="1.65" fill="#0000ff"/><circle cx="516.3" cy="502.3" r="1.65" fill="#0000ff"/><circle cx="516.3" cy="514.5" r="1.65" fill="#0000ff"/><circle cx="516.3" cy="521.3" r="1.65" fill="#0000ff"/><circle cx="516.3" cy="523.1" r="1.65" fill="#0000ff"/><circle cx="516.3" cy="524.7" r="1.65" fill="#0000ff"/><circle cx="516.3" cy="526.5" r="1.65" fill="#0000ff"/><circle cx="516.3" cy="530.3" r="1.65" fill="#0000ff"/><circle cx="516.3" cy="537.0" r="1.65" fill="#0000ff"/><circle cx="540.9" cy="470.2" r="1.65" fill="#ff0000"/><circle cx="540.9" cy="484.8" r="1.65" fill="#ff0000"/><circle cx="540.9" cy="487.0" r="1.65" fill="#ff0000"/><circle cx="540.9" cy="494.2" r="1.65" fill="#ff0000"/><circle cx="540.9" cy="499.4" r="1.65" fill="#ff0000"/><circle cx="540.9" cy="511.4" r="1.65" fill="#ff0000"/><circle cx="540.9" cy="514.1" r="1.65" fill="#ff0000"/><circle cx="540.9" cy="523.5" r="1.65" fill="#ff0000"/><circle cx="540.9" cy="527.6" r="1.65" fill="#ff0000"/><line x1="516.1" y1="459.8" x2="540.6" y2="459.8" stroke="#333" stroke-width="1.2"/><text x="528.35" y="457.6" font-size="6.5" font-weight="bold" fill="#222" text-anchor="middle" xml:space="preserve">*</text><text x="518.3" y="557.9000000000001" font-size="8.6" font-weight="bold" fill="#1a1a1a" text-anchor="end" xml:space="preserve" textLength="43.4" lengthAdjust="spacingAndGlyphs" transform="rotate(-45 518.3 557.9000000000001)">Before ECT</text><text x="544.0" y="558.2" font-size="8.6" font-weight="bold" fill="#1a1a1a" text-anchor="end" xml:space="preserve" textLength="38.8" lengthAdjust="spacingAndGlyphs" transform="rotate(-45 544.0 558.2)">After  ECT</text>
<rect x="578.0" y="505.8" width="16.40" height="41.40" fill="#10ec10"/><path d="M570.0,461.2 V547.2 H627.5" fill="none" stroke="#333" stroke-width="1.2"/><line x1="566.4" y1="461.2" x2="570.0" y2="461.2" stroke="#333" stroke-width="1"/><text x="566.0" y="463.59999999999997" font-size="6.8" font-weight="bold" fill="#222" text-anchor="end">400</text><line x1="566.4" y1="482.6" x2="570.0" y2="482.6" stroke="#333" stroke-width="1"/><text x="566.0" y="485.0" font-size="6.8" font-weight="bold" fill="#222" text-anchor="end">300</text><line x1="566.4" y1="504.1" x2="570.0" y2="504.1" stroke="#333" stroke-width="1"/><text x="566.0" y="506.5" font-size="6.8" font-weight="bold" fill="#222" text-anchor="end">200</text><line x1="566.4" y1="525.7" x2="570.0" y2="525.7" stroke="#333" stroke-width="1"/><text x="566.0" y="528.1" font-size="6.8" font-weight="bold" fill="#222" text-anchor="end">100</text><line x1="566.4" y1="547.2" x2="570.0" y2="547.2" stroke="#333" stroke-width="1"/><text x="566.0" y="549.6" font-size="6.8" font-weight="bold" fill="#222" text-anchor="end">0</text><line x1="586.4" y1="547.2" x2="586.4" y2="551.2" stroke="#333" stroke-width="1"/><line x1="610.4" y1="547.2" x2="610.4" y2="551.2" stroke="#333" stroke-width="1"/><line x1="586.4" y1="492.4" x2="610.4" y2="498.9" stroke="#111" stroke-width="1.15"/><line x1="586.4" y1="503.9" x2="610.4" y2="503.2" stroke="#111" stroke-width="1.15"/><line x1="586.4" y1="509.4" x2="610.4" y2="516.4" stroke="#111" stroke-width="1.15"/><line x1="586.4" y1="517.7" x2="610.4" y2="522.3" stroke="#111" stroke-width="1.15"/><circle cx="586.4" cy="492.4" r="1.65" fill="#1aaa3a"/><circle cx="586.4" cy="503.9" r="1.65" fill="#1aaa3a"/><circle cx="586.4" cy="509.4" r="1.65" fill="#1aaa3a"/><circle cx="586.4" cy="517.7" r="1.65" fill="#1aaa3a"/><circle cx="610.4" cy="498.9" r="1.65" fill="#1ea4c8"/><circle cx="610.4" cy="503.2" r="1.65" fill="#1ea4c8"/><circle cx="610.4" cy="516.4" r="1.65" fill="#1ea4c8"/><circle cx="610.4" cy="522.3" r="1.65" fill="#1ea4c8"/><line x1="586.1" y1="482.2" x2="610.7" y2="482.2" stroke="#333" stroke-width="1.2"/><text x="598.4000000000001" y="478.0" font-size="7.5" fill="#333" text-anchor="middle">ns</text><text x="588.8" y="556.5000000000001" font-size="8.6" font-weight="bold" fill="#1a1a1a" text-anchor="end" xml:space="preserve" textLength="43.4" lengthAdjust="spacingAndGlyphs" transform="rotate(-45 588.8 556.5000000000001)">Before ECT</text><text x="613.9" y="559.4000000000001" font-size="8.6" font-weight="bold" fill="#1a1a1a" text-anchor="end" xml:space="preserve" textLength="38.8" lengthAdjust="spacingAndGlyphs" transform="rotate(-45 613.9 559.4000000000001)">After  ECT</text>
<text x="558.3" y="602.5" font-size="11.7" font-weight="bold" fill="#111" text-anchor="middle" textLength="32.3" lengthAdjust="spacingAndGlyphs">GABA</text>
<line x1="512.3" y1="609.3" x2="605.5" y2="609.3" stroke="#222" stroke-width="1"/>
<text x="524.4" y="622.4" font-size="9.8" fill="#222" text-anchor="middle" textLength="43.1" lengthAdjust="spacingAndGlyphs">Remission</text>
<text x="594.4" y="622.4" font-size="9.8" fill="#222" text-anchor="middle" textLength="59.8" lengthAdjust="spacingAndGlyphs">Non-remission</text>
<text x="484.3" y="680.4" font-size="7.6" font-weight="bold" fill="#1a1a1a" text-anchor="middle" textLength="41.3" lengthAdjust="spacingAndGlyphs" transform="rotate(-90 484.3 680.4)">Peak Area/IS</text>
<rect x="509.3" y="677.0" width="16.70" height="46.50" fill="#8c8cfb"/><rect x="534.1" y="687.6" width="16.30" height="35.90" fill="#ffa3a3"/><path d="M501.5,637.2 V723.5 H558.5" fill="none" stroke="#262626" stroke-width="1.2"/><line x1="497.9" y1="637.2" x2="501.5" y2="637.2" stroke="#262626" stroke-width="1"/><text x="497.5" y="639.6" font-size="6.8" font-weight="bold" fill="#222" text-anchor="end">0.5</text><line x1="497.9" y1="654.4" x2="501.5" y2="654.4" stroke="#262626" stroke-width="1"/><text x="497.5" y="656.8" font-size="6.8" font-weight="bold" fill="#222" text-anchor="end">0.4</text><line x1="497.9" y1="671.6" x2="501.5" y2="671.6" stroke="#262626" stroke-width="1"/><text x="497.5" y="674.0" font-size="6.8" font-weight="bold" fill="#222" text-anchor="end">0.3</text><line x1="497.9" y1="688.9" x2="501.5" y2="688.9" stroke="#262626" stroke-width="1"/><text x="497.5" y="691.3" font-size="6.8" font-weight="bold" fill="#222" text-anchor="end">0.2</text><line x1="497.9" y1="706.2" x2="501.5" y2="706.2" stroke="#262626" stroke-width="1"/><text x="497.5" y="708.6" font-size="6.8" font-weight="bold" fill="#222" text-anchor="end">0.1</text><line x1="497.9" y1="723.5" x2="501.5" y2="723.5" stroke="#262626" stroke-width="1"/><text x="497.5" y="725.9" font-size="6.8" font-weight="bold" fill="#222" text-anchor="end">0.0</text><line x1="517.6" y1="723.5" x2="517.6" y2="727.5" stroke="#262626" stroke-width="1"/><line x1="542.3" y1="723.5" x2="542.3" y2="727.5" stroke="#262626" stroke-width="1"/><line x1="517.6" y1="643.6" x2="542.3" y2="653.8" stroke="#111" stroke-width="1.15"/><line x1="517.6" y1="646.8" x2="542.3" y2="660.1" stroke="#111" stroke-width="1.15"/><line x1="517.6" y1="671.3" x2="542.3" y2="686.3" stroke="#111" stroke-width="1.15"/><line x1="517.6" y1="677.4" x2="542.3" y2="686.3" stroke="#111" stroke-width="1.15"/><line x1="517.6" y1="683.8" x2="542.3" y2="696.4" stroke="#111" stroke-width="1.15"/><line x1="517.6" y1="686.8" x2="542.3" y2="704.4" stroke="#111" stroke-width="1.15"/><line x1="517.6" y1="693.1" x2="542.3" y2="690.5" stroke="#111" stroke-width="1.15"/><line x1="517.6" y1="694.6" x2="542.3" y2="702.6" stroke="#111" stroke-width="1.15"/><line x1="517.6" y1="696.1" x2="542.3" y2="706.4" stroke="#111" stroke-width="1.15"/><circle cx="517.6" cy="643.6" r="1.65" fill="#0000ff"/><circle cx="517.6" cy="646.8" r="1.65" fill="#0000ff"/><circle cx="517.6" cy="671.3" r="1.65" fill="#0000ff"/><circle cx="517.6" cy="677.4" r="1.65" fill="#0000ff"/><circle cx="517.6" cy="683.8" r="1.65" fill="#0000ff"/><circle cx="517.6" cy="686.8" r="1.65" fill="#0000ff"/><circle cx="517.6" cy="693.1" r="1.65" fill="#0000ff"/><circle cx="517.6" cy="694.6" r="1.65" fill="#0000ff"/><circle cx="517.6" cy="696.1" r="1.65" fill="#0000ff"/><circle cx="542.3" cy="653.8" r="1.65" fill="#ff0000"/><circle cx="542.3" cy="660.1" r="1.65" fill="#ff0000"/><circle cx="542.3" cy="686.3" r="1.65" fill="#ff0000"/><circle cx="542.3" cy="690.5" r="1.65" fill="#ff0000"/><circle cx="542.3" cy="696.4" r="1.65" fill="#ff0000"/><circle cx="542.3" cy="702.6" r="1.65" fill="#ff0000"/><circle cx="542.3" cy="704.4" r="1.65" fill="#ff0000"/><circle cx="542.3" cy="706.4" r="1.65" fill="#ff0000"/><line x1="517.5" y1="638.2" x2="542.2" y2="638.2" stroke="#333" stroke-width="1.2"/><text x="529.85" y="636.1" font-size="6.5" font-weight="bold" fill="#222" text-anchor="middle" xml:space="preserve">* *</text><text x="517.8000000000001" y="733.8000000000001" font-size="8.6" font-weight="bold" fill="#1a1a1a" text-anchor="end" xml:space="preserve" textLength="43.4" lengthAdjust="spacingAndGlyphs" transform="rotate(-45 517.8000000000001 733.8000000000001)">Before ECT</text><text x="542.5" y="734.9" font-size="8.6" font-weight="bold" fill="#1a1a1a" text-anchor="end" xml:space="preserve" textLength="38.8" lengthAdjust="spacingAndGlyphs" transform="rotate(-45 542.5 734.9)">After  ECT</text>
<rect x="582.7" y="690.1" width="16.50" height="33.40" fill="#10ec10"/><path d="M574.3,637.2 V723.5 H630.6" fill="none" stroke="#262626" stroke-width="1.2"/><line x1="570.6999999999999" y1="637.2" x2="574.3" y2="637.2" stroke="#262626" stroke-width="1"/><text x="570.3" y="639.6" font-size="6.8" font-weight="bold" fill="#222" text-anchor="end">0.5</text><line x1="570.6999999999999" y1="654.4" x2="574.3" y2="654.4" stroke="#262626" stroke-width="1"/><text x="570.3" y="656.8" font-size="6.8" font-weight="bold" fill="#222" text-anchor="end">0.4</text><line x1="570.6999999999999" y1="671.6" x2="574.3" y2="671.6" stroke="#262626" stroke-width="1"/><text x="570.3" y="674.0" font-size="6.8" font-weight="bold" fill="#222" text-anchor="end">0.3</text><line x1="570.6999999999999" y1="688.9" x2="574.3" y2="688.9" stroke="#262626" stroke-width="1"/><text x="570.3" y="691.3" font-size="6.8" font-weight="bold" fill="#222" text-anchor="end">0.2</text><line x1="570.6999999999999" y1="706.2" x2="574.3" y2="706.2" stroke="#262626" stroke-width="1"/><text x="570.3" y="708.6" font-size="6.8" font-weight="bold" fill="#222" text-anchor="end">0.1</text><line x1="570.6999999999999" y1="723.5" x2="574.3" y2="723.5" stroke="#262626" stroke-width="1"/><text x="570.3" y="725.9" font-size="6.8" font-weight="bold" fill="#222" text-anchor="end">0.0</text><line x1="590.6" y1="723.5" x2="590.6" y2="727.5" stroke="#262626" stroke-width="1"/><line x1="615.5" y1="723.5" x2="615.5" y2="727.5" stroke="#262626" stroke-width="1"/><line x1="590.6" y1="686.7" x2="615.5" y2="679.6" stroke="#111" stroke-width="1.15"/><line x1="590.6" y1="688.2" x2="615.5" y2="688.6" stroke="#111" stroke-width="1.15"/><line x1="590.6" y1="692.3" x2="615.5" y2="692.3" stroke="#111" stroke-width="1.15"/><line x1="590.6" y1="694.5" x2="615.5" y2="695.3" stroke="#111" stroke-width="1.15"/><circle cx="590.6" cy="686.7" r="1.65" fill="#1aaa3a"/><circle cx="590.6" cy="688.2" r="1.65" fill="#1aaa3a"/><circle cx="590.6" cy="692.3" r="1.65" fill="#1aaa3a"/><circle cx="590.6" cy="694.5" r="1.65" fill="#1aaa3a"/><circle cx="615.5" cy="679.6" r="1.65" fill="#1ea4c8"/><circle cx="615.5" cy="688.6" r="1.65" fill="#1ea4c8"/><circle cx="615.5" cy="692.3" r="1.65" fill="#1ea4c8"/><circle cx="615.5" cy="695.3" r="1.65" fill="#1ea4c8"/><line x1="591.3" y1="669.3" x2="615.8" y2="669.3" stroke="#333" stroke-width="1.2"/><text x="603.55" y="665.0999999999999" font-size="7.5" fill="#333" text-anchor="middle">ns</text><text x="587.5" y="732.7" font-size="8.6" font-weight="bold" fill="#1a1a1a" text-anchor="end" xml:space="preserve" textLength="43.4" lengthAdjust="spacingAndGlyphs" transform="rotate(-45 587.5 732.7)">Before ECT</text><text x="612.8000000000001" y="733.8000000000001" font-size="8.6" font-weight="bold" fill="#1a1a1a" text-anchor="end" xml:space="preserve" textLength="38.8" lengthAdjust="spacingAndGlyphs" transform="rotate(-45 612.8000000000001 733.8000000000001)">After  ECT</text>
<text x="557.2" y="784.8" font-size="12" font-weight="bold" fill="#111" text-anchor="middle" textLength="47" lengthAdjust="spacingAndGlyphs">γGlu-Glu</text>
<clipPath id="cg"><rect x="490" y="785" width="47.6" height="25"/></clipPath>
<g clip-path="url(#cg)"><line x1="507.9" y1="793" x2="560" y2="793" stroke="#777" stroke-width="1.2"/><text x="498.0" y="804.9" font-size="9.8" fill="#222" textLength="43.1" lengthAdjust="spacingAndGlyphs">Remission</text></g>
<text x="475.20000000000005" y="862.7" font-size="7.6" font-weight="bold" fill="#1a1a1a" text-anchor="middle" textLength="43.0" lengthAdjust="spacingAndGlyphs" transform="rotate(-90 475.20000000000005 862.7)">Peak Area/IS</text>
<rect x="505.3" y="870.6" width="15.50" height="34.90" fill="#8c8cfb"/><rect x="529.7" y="879.1" width="16.10" height="26.40" fill="#ffa3a3"/><path d="M496.4,819.0 V905.5 H554.2" fill="none" stroke="#262626" stroke-width="1.2"/><line x1="492.79999999999995" y1="819.0" x2="496.4" y2="819.0" stroke="#262626" stroke-width="1"/><text x="492.4" y="821.4" font-size="6.8" font-weight="bold" fill="#222" text-anchor="end">3.0</text><line x1="492.79999999999995" y1="847.9" x2="496.4" y2="847.9" stroke="#262626" stroke-width="1"/><text x="492.4" y="850.3" font-size="6.8" font-weight="bold" fill="#222" text-anchor="end">2.0</text><line x1="492.79999999999995" y1="876.8" x2="496.4" y2="876.8" stroke="#262626" stroke-width="1"/><text x="492.4" y="879.1999999999999" font-size="6.8" font-weight="bold" fill="#222" text-anchor="end">1.0</text><line x1="492.79999999999995" y1="905.5" x2="496.4" y2="905.5" stroke="#262626" stroke-width="1"/><text x="492.4" y="907.9" font-size="6.8" font-weight="bold" fill="#222" text-anchor="end">0</text><line x1="513.1" y1="905.5" x2="513.1" y2="909.5" stroke="#262626" stroke-width="1"/><line x1="537.4" y1="905.5" x2="537.4" y2="909.5" stroke="#262626" stroke-width="1"/><line x1="513.1" y1="856.4" x2="537.4" y2="867.9" stroke="#111" stroke-width="1.15"/><line x1="513.1" y1="858.3" x2="537.4" y2="869.7" stroke="#111" stroke-width="1.15"/><line x1="513.1" y1="860.8" x2="537.4" y2="873.4" stroke="#111" stroke-width="1.15"/><line x1="513.1" y1="863.8" x2="537.4" y2="875.6" stroke="#111" stroke-width="1.15"/><line x1="513.1" y1="867.2" x2="537.4" y2="883.1" stroke="#111" stroke-width="1.15"/><line x1="513.1" y1="889.9" x2="537.4" y2="886.2" stroke="#111" stroke-width="1.15"/><line x1="513.1" y1="898.3" x2="537.4" y2="902.0" stroke="#111" stroke-width="1.15"/><circle cx="513.1" cy="856.4" r="1.65" fill="#0000ff"/><circle cx="513.1" cy="858.3" r="1.65" fill="#0000ff"/><circle cx="513.1" cy="860.8" r="1.65" fill="#0000ff"/><circle cx="513.1" cy="863.8" r="1.65" fill="#0000ff"/><circle cx="513.1" cy="867.2" r="1.65" fill="#0000ff"/><circle cx="513.1" cy="889.9" r="1.65" fill="#0000ff"/><circle cx="513.1" cy="898.3" r="1.65" fill="#0000ff"/><circle cx="537.4" cy="867.9" r="1.65" fill="#ff0000"/><circle cx="537.4" cy="869.7" r="1.65" fill="#ff0000"/><circle cx="537.4" cy="873.4" r="1.65" fill="#ff0000"/><circle cx="537.4" cy="875.6" r="1.65" fill="#ff0000"/><circle cx="537.4" cy="883.1" r="1.65" fill="#ff0000"/><circle cx="537.4" cy="886.2" r="1.65" fill="#ff0000"/><circle cx="537.4" cy="902.0" r="1.65" fill="#ff0000"/><line x1="513.1" y1="846.4" x2="537.4" y2="846.4" stroke="#333" stroke-width="1.2"/><text x="525.25" y="847.0" font-size="9" font-weight="bold" fill="#222" text-anchor="middle" xml:space="preserve">**</text><text x="514.4000000000001" y="915.8000000000001" font-size="8.6" font-weight="bold" fill="#1a1a1a" text-anchor="end" xml:space="preserve" textLength="43.4" lengthAdjust="spacingAndGlyphs" transform="rotate(-45 514.4000000000001 915.8000000000001)">Before ECT</text><text x="539.1" y="915.8000000000001" font-size="8.6" font-weight="bold" fill="#1a1a1a" text-anchor="end" xml:space="preserve" textLength="38.8" lengthAdjust="spacingAndGlyphs" transform="rotate(-45 539.1 915.8000000000001)">After  ECT</text>
<rect x="579.2" y="857.8" width="16.10" height="49.00" fill="#10ec10"/><rect x="603.7" y="859.8" width="16.30" height="47.00" fill="#4ff0fa"/><path d="M571.2,820.4 V906.8 H628.6" fill="none" stroke="#4a4a4a" stroke-width="1.2"/><line x1="567.6" y1="820.4" x2="571.2" y2="820.4" stroke="#4a4a4a" stroke-width="1"/><text x="567.2" y="822.8" font-size="6.8" font-weight="bold" fill="#222" text-anchor="end">3.0</text><line x1="567.6" y1="849.4" x2="571.2" y2="849.4" stroke="#4a4a4a" stroke-width="1"/><text x="567.2" y="851.8" font-size="6.8" font-weight="bold" fill="#222" text-anchor="end">2.0</text><line x1="567.6" y1="878.3" x2="571.2" y2="878.3" stroke="#4a4a4a" stroke-width="1"/><text x="567.2" y="880.6999999999999" font-size="6.8" font-weight="bold" fill="#222" text-anchor="end">1.0</text><line x1="567.6" y1="906.8" x2="571.2" y2="906.8" stroke="#4a4a4a" stroke-width="1"/><text x="567.2" y="909.1999999999999" font-size="6.8" font-weight="bold" fill="#222" text-anchor="end">0</text><line x1="587.4" y1="906.8" x2="587.4" y2="910.8" stroke="#4a4a4a" stroke-width="1"/><line x1="612.0" y1="906.8" x2="612.0" y2="910.8" stroke="#4a4a4a" stroke-width="1"/><line x1="587.4" y1="832.3" x2="612.0" y2="830.0" stroke="#111" stroke-width="1.15"/><line x1="587.4" y1="857.2" x2="612.0" y2="857.2" stroke="#111" stroke-width="1.15"/><line x1="587.4" y1="866.7" x2="612.0" y2="880.1" stroke="#111" stroke-width="1.15"/><line x1="587.4" y1="873.4" x2="612.0" y2="871.2" stroke="#111" stroke-width="1.15"/><circle cx="587.4" cy="832.3" r="1.65" fill="#1aaa3a"/><circle cx="587.4" cy="857.2" r="1.65" fill="#1aaa3a"/><circle cx="587.4" cy="866.7" r="1.65" fill="#1aaa3a"/><circle cx="587.4" cy="873.4" r="1.65" fill="#1aaa3a"/><circle cx="612.0" cy="830.0" r="1.65" fill="#1ea4c8"/><circle cx="612.0" cy="857.2" r="1.65" fill="#1ea4c8"/><circle cx="612.0" cy="871.2" r="1.65" fill="#1ea4c8"/><circle cx="612.0" cy="880.1" r="1.65" fill="#1ea4c8"/><line x1="587.8" y1="819.7" x2="611.6" y2="819.7" stroke="#333" stroke-width="1.2"/><text x="599.7" y="815.5" font-size="7.5" fill="#333" text-anchor="middle">ns</text><text x="589.5" y="916.0" font-size="8.6" font-weight="bold" fill="#1a1a1a" text-anchor="end" xml:space="preserve" textLength="43.4" lengthAdjust="spacingAndGlyphs" transform="rotate(-45 589.5 916.0)">Before ECT</text><text x="613.7" y="917.1" font-size="8.6" font-weight="bold" fill="#1a1a1a" text-anchor="end" xml:space="preserve" textLength="38.8" lengthAdjust="spacingAndGlyphs" transform="rotate(-45 613.7 917.1)">After  ECT</text></svg></body></html>
